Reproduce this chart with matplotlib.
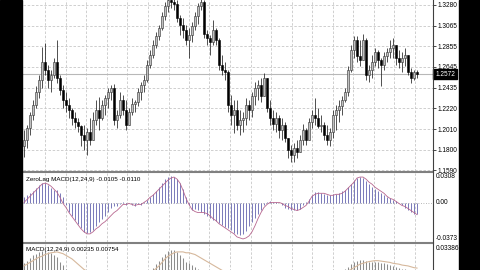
import numpy as np
import matplotlib.pyplot as plt
from matplotlib.patches import Rectangle
from matplotlib.lines import Line2D

plt.rcParams['font.family'] = ['Liberation Sans', 'DejaVu Sans']

# --- price bars (one per bar, oldest first) ---
first_open = 1.1836
closes = [1.1897, 1.2020, 1.2153, 1.2256, 1.2389, 1.2512, 1.2696, 1.2614, 1.2512, 1.2563,
          1.2696, 1.2532, 1.2409, 1.2307, 1.2256, 1.2205, 1.2123, 1.2082, 1.2041, 1.1949,
          1.1897, 1.1979, 1.1897, 1.2102, 1.2205, 1.2123, 1.2256, 1.2327, 1.2389, 1.2430,
          1.2102, 1.2153, 1.2307, 1.2205, 1.2051, 1.2184, 1.2266, 1.2287, 1.2389, 1.2461,
          1.2512, 1.2665, 1.2768, 1.2870, 1.2962, 1.3044, 1.3167, 1.3270, 1.3331, 1.3311,
          1.3290, 1.3147, 1.3075, 1.3024, 1.2921, 1.2973, 1.3065, 1.3167, 1.3270, 1.3311,
          1.2983, 1.2942, 1.2901, 1.3024, 1.2921, 1.2665, 1.2614, 1.2594, 1.2256, 1.2153,
          1.2205, 1.2051, 1.2102, 1.2123, 1.2256, 1.2205, 1.2348, 1.2430, 1.2461, 1.2348,
          1.2532, 1.2225, 1.2123, 1.2061, 1.2123, 1.2000, 1.2051, 1.1918, 1.1795, 1.1744,
          1.1816, 1.1775, 1.1897, 1.2000, 1.1897, 1.2082, 1.2153, 1.2123, 1.2041, 1.2051,
          1.1949, 1.1897, 1.1979, 1.2153, 1.2205, 1.2246, 1.2307, 1.2389, 1.2614, 1.2819,
          1.2921, 1.2758, 1.2717, 1.2921, 1.2563, 1.2614, 1.2696, 1.2799, 1.2717, 1.2665,
          1.2758, 1.2799, 1.2840, 1.2870, 1.2737, 1.2696, 1.2737, 1.2768, 1.2594, 1.2532,
          1.2594, 1.2572]
highs = [1.2000, 1.2051, 1.2184, 1.2307, 1.2450, 1.2563, 1.2850, 1.2891, 1.2665, 1.2614,
         1.2737, 1.2921, 1.2563, 1.2461, 1.2389, 1.2327, 1.2225, 1.2184, 1.2123, 1.2051,
         1.2051, 1.2020, 1.2123, 1.2184, 1.2307, 1.2338, 1.2307, 1.2358, 1.2430, 1.2461,
         1.2471, 1.2205, 1.2389, 1.2358, 1.2307, 1.2225, 1.2327, 1.2307, 1.2430, 1.2491,
         1.2563, 1.2717, 1.2819, 1.2921, 1.3003, 1.3075, 1.3208, 1.3311, 1.3382, 1.3413,
         1.3382, 1.3331, 1.3177, 1.3147, 1.3075, 1.3044, 1.3106, 1.3208, 1.3300, 1.3362,
         1.3331, 1.3024, 1.2973, 1.3126, 1.3044, 1.2942, 1.2768, 1.2696, 1.2614, 1.2358,
         1.2307, 1.2307, 1.2205, 1.2184, 1.2327, 1.2307, 1.2389, 1.2491, 1.2512, 1.2532,
         1.2583, 1.2430, 1.2307, 1.2205, 1.2184, 1.2153, 1.2123, 1.2082, 1.1918, 1.1846,
         1.1867, 1.1897, 1.1949, 1.2061, 1.2020, 1.2123, 1.2205, 1.2327, 1.2225, 1.2153,
         1.2082, 1.2051, 1.2020, 1.2205, 1.2256, 1.2307, 1.2348, 1.2430, 1.2655, 1.2870,
         1.2962, 1.2962, 1.2921, 1.2983, 1.2942, 1.2665, 1.2768, 1.2840, 1.2819, 1.2737,
         1.2799, 1.2840, 1.2921, 1.2942, 1.2870, 1.2819, 1.2799, 1.2840, 1.2768, 1.2635,
         1.2614, 1.2614]
lows = [1.1723, 1.1815, 1.1949, 1.2102, 1.2225, 1.2327, 1.2430, 1.2563, 1.2430, 1.2389,
        1.2532, 1.2481, 1.2358, 1.2225, 1.2184, 1.2123, 1.2051, 1.2020, 1.1979, 1.1836,
        1.1795, 1.1744, 1.1846, 1.1949, 1.2051, 1.2000, 1.2102, 1.2153, 1.2225, 1.2307,
        1.2051, 1.2020, 1.2123, 1.2153, 1.2000, 1.2051, 1.2153, 1.2184, 1.2246, 1.2307,
        1.2389, 1.2491, 1.2635, 1.2737, 1.2840, 1.2921, 1.3024, 1.3126, 1.3208, 1.3249,
        1.3229, 1.3106, 1.2973, 1.2942, 1.2870, 1.2737, 1.2901, 1.3024, 1.3085, 1.3229,
        1.2942, 1.2870, 1.2768, 1.2870, 1.2870, 1.2614, 1.2563, 1.2512, 1.2184, 1.2051,
        1.1969, 1.2000, 1.1949, 1.1979, 1.2051, 1.2102, 1.2133, 1.2256, 1.2307, 1.2287,
        1.2358, 1.2184, 1.2051, 1.2000, 1.1979, 1.1918, 1.1897, 1.1877, 1.1713, 1.1672,
        1.1672, 1.1713, 1.1775, 1.1846, 1.1846, 1.1897, 1.2020, 1.2051, 1.2020, 1.1979,
        1.1897, 1.1846, 1.1836, 1.1918, 1.2000, 1.2082, 1.2153, 1.2287, 1.2348, 1.2594,
        1.2737, 1.2696, 1.2655, 1.2737, 1.2512, 1.2491, 1.2532, 1.2655, 1.2635, 1.2450,
        1.2614, 1.2696, 1.2737, 1.2737, 1.2665, 1.2635, 1.2594, 1.2655, 1.2563, 1.2481,
        1.2512, 1.2532]

price_ticks = [1.3280, 1.3065, 1.2855, 1.2645, 1.2435, 1.2220, 1.2010, 1.1800, 1.1590]
price_labels = ['1.3280', '1.3065', '1.2855', '1.2645', '1.2435', '1.2220', '1.2010', '1.1800', '1.1590']

# --- ZeroLag MACD(12,24,9) ---
zl_hist = [0.006, 0.008, 0.010, 0.012, 0.015, 0.018, 0.020, 0.020, 0.018, 0.015,
           0.013, 0.013, 0.010, 0.006, -0.002, -0.008, -0.012, -0.016, -0.020, -0.024,
           -0.028, -0.029, -0.028, -0.026, -0.022, -0.018, -0.015, -0.012, -0.008, -0.004,
           -0.003, -0.003, -0.001, 0.001, -0.002, 0.000, -0.002, -0.003, -0.001, -0.002,
           0.001, 0.003, 0.006, 0.009, 0.012, 0.016, 0.020, 0.024, 0.026, 0.027,
           0.026, 0.024, 0.020, 0.014, 0.006, -0.002, -0.006, -0.005, -0.006, -0.008,
           -0.010, -0.012, -0.014, -0.016, -0.017, -0.019, -0.021, -0.023, -0.024, -0.026,
           -0.029, -0.030, -0.031, -0.030, -0.027, -0.022, -0.018, -0.014, -0.010, -0.006,
           -0.002, 0.001, 0.002, 0.001, 0.001, 0.000, -0.002, -0.004, -0.005, -0.006,
           -0.006, -0.006, -0.005, -0.002, 0.001, 0.004, 0.008, 0.011, 0.011, 0.010,
           0.009, 0.008, 0.008, 0.009, 0.009, 0.010, 0.012, 0.013, 0.016, 0.019,
           0.023, 0.025, 0.026, 0.025, 0.022, 0.019, 0.016, 0.014, 0.012, 0.010,
           0.008, 0.006, 0.005, 0.003, 0.002, 0.000, -0.002, -0.004, -0.006, -0.008,
           -0.010, -0.0105]
zl_signal = [0.001, 0.004, 0.007, 0.010, 0.013, 0.016, 0.019, 0.020, 0.019, 0.017,
             0.014, 0.011, 0.006, 0.000, -0.004, -0.009, -0.013, -0.017, -0.021, -0.025,
             -0.028, -0.030, -0.030, -0.028, -0.025, -0.023, -0.020, -0.018, -0.015, -0.012,
             -0.009, -0.007, -0.004, -0.001, -0.001, 0.000, -0.001, -0.002, -0.001, -0.001,
             0.001, 0.003, 0.006, 0.008, 0.011, 0.014, 0.017, 0.020, 0.023, 0.025,
             0.026, 0.024, 0.020, 0.013, 0.005, -0.001, -0.006, -0.008, -0.009, -0.009,
             -0.009, -0.010, -0.012, -0.015, -0.017, -0.020, -0.022, -0.024, -0.026, -0.028,
             -0.030, -0.033, -0.034, -0.035, -0.034, -0.032, -0.028, -0.022, -0.015, -0.009,
             -0.004, -0.001, 0.001, 0.001, 0.001, 0.001, 0.000, -0.002, -0.003, -0.005,
             -0.006, -0.007, -0.006, -0.004, -0.002, 0.002, 0.007, 0.009, 0.010, 0.010,
             0.010, 0.009, 0.008, 0.008, 0.009, 0.009, 0.010, 0.012, 0.015, 0.018,
             0.021, 0.025, 0.026, 0.026, 0.024, 0.021, 0.019, 0.016, 0.014, 0.012,
             0.010, 0.007, 0.005, 0.004, 0.002, 0.000, -0.002, -0.003, -0.005, -0.007,
             -0.009, -0.011]

# --- MACD(12,24,9) ---
macd_hist = [0.013, 0.016, 0.019, 0.022, 0.024, 0.026, 0.027, 0.027, 0.026, 0.025,
             0.023, 0.020, 0.015, 0.011, 0.007, 0.003, -0.002, -0.006, -0.010, -0.014,
             -0.017, -0.019, -0.020, -0.020, -0.019, -0.017, -0.015, -0.013, -0.011, -0.009,
             -0.008, -0.007, -0.006, -0.005, -0.005, -0.004, -0.004, -0.003, -0.002, -0.001,
             0.001, 0.003, 0.005, 0.008, 0.012, 0.016, 0.020, 0.024, 0.027, 0.028,
             0.028, 0.026, 0.023, 0.019, 0.015, 0.013, 0.011, 0.009, 0.007, 0.005,
             0.004, 0.002, 0.000, -0.002, -0.004, -0.007, -0.010, -0.013, -0.016, -0.019,
             -0.022, -0.024, -0.025, -0.026, -0.025, -0.024, -0.022, -0.020, -0.018, -0.016,
             -0.014, -0.013, -0.012, -0.011, -0.011, -0.011, -0.012, -0.013, -0.014, -0.015,
             -0.015, -0.014, -0.013, -0.011, -0.009, -0.007, -0.005, -0.003, -0.002, -0.001,
             -0.001, -0.001, -0.001, 0.000, 0.001, 0.002, 0.004, 0.006, 0.009, 0.012,
             0.015, 0.016, 0.017, 0.017, 0.016, 0.015, 0.015, 0.014, 0.014, 0.013,
             0.013, 0.012, 0.011, 0.010, 0.009, 0.008, 0.007, 0.006, 0.004, 0.003,
             0.003, 0.00235]
macd_signal = [0.010, 0.012, 0.014, 0.016, 0.018, 0.020, 0.021, 0.023, 0.024, 0.025,
               0.0255, 0.026, 0.025, 0.024, 0.022, 0.020, 0.018, 0.015, 0.012, 0.009,
               0.006, 0.004, 0.001, -0.002, -0.005, -0.007, -0.009, -0.011, -0.012, -0.012,
               -0.012, -0.011, -0.010, -0.009, -0.008, -0.007, -0.006, -0.005, -0.004, -0.003,
               -0.002, 0.000, 0.002, 0.004, 0.007, 0.010, 0.014, 0.018, 0.021, 0.023,
               0.025, 0.026, 0.026, 0.026, 0.025, 0.025, 0.024, 0.023, 0.021, 0.019,
               0.017, 0.015, 0.013, 0.011, 0.009, 0.007, 0.005, 0.003, 0.000, -0.003,
               -0.006, -0.009, -0.012, -0.015, -0.017, -0.019, -0.020, -0.020, -0.020, -0.019,
               -0.018, -0.017, -0.016, -0.015, -0.014, -0.013, -0.013, -0.013, -0.013, -0.013,
               -0.013, -0.013, -0.013, -0.012, -0.011, -0.010, -0.009, -0.008, -0.006, -0.005,
               -0.004, -0.003, -0.002, -0.001, 0.000, 0.001, 0.002, 0.003, 0.004, 0.006,
               0.008, 0.010, 0.012, 0.013, 0.014, 0.015, 0.0155, 0.016, 0.016, 0.0155,
               0.015, 0.0145, 0.014, 0.013, 0.0125, 0.012, 0.011, 0.0105, 0.010, 0.009,
               0.008, 0.00754]

W, H = 480, 270


def rect(x0, y0, x1, y1):
    # pixel box (top-left origin) -> figure fraction
    return [x0 / W, 1 - y1 / H, (x1 - x0) / W, (y1 - y0) / H]


closes = np.array(closes)
opens = np.r_[first_open, closes[:-1]]
hi = np.maximum(highs, np.maximum(opens, closes))
lo = np.minimum(lows, np.minimum(opens, closes))
x = np.arange(len(closes))
xlim = (-1 / 3, -1 / 3 + 410 / 3)
grid_px = [45, 66, 86, 107, 127, 148, 169, 189, 209, 230, 251, 271, 292, 312, 333, 353, 374, 394, 415]
grid_x = [(p - 24) / 3 for p in grid_px]
grid_kw = dict(color='#c8c8c8', lw=0.6, ls=(0, (3, 2)), zorder=0)

fig = plt.figure(figsize=(4.8, 2.7), dpi=100)
fig.patch.set_facecolor('white')

ax = fig.add_axes(rect(23, 0, 433, 171))
ax2 = fig.add_axes(rect(23, 173, 433, 242))
ax3 = fig.add_axes(rect(23, 244, 433, 313))

for a in (ax, ax2, ax3):
    a.set_xlim(*xlim)
    a.set_xticks([])
    for s in a.spines.values():
        s.set_visible(False)
    for gx in grid_x:
        a.axvline(gx, **grid_kw)

# main price window
ax.set_ylim(1.1580, 1.3331)
for t in price_ticks:
    ax.axhline(t, **grid_kw)
ax.axhline(closes[-1], color='#b8b8b8', lw=0.8, zorder=1)
ax.vlines(x, lo, hi, color='#202020', lw=0.55, zorder=2)
up = closes >= opens
ax.bar(x[up], (closes - opens)[up], bottom=opens[up], width=0.7,
       color='#c0c0c0', edgecolor='#303030', lw=0.4, zorder=3)
ax.bar(x[~up], (opens - closes)[~up], bottom=closes[~up], width=0.7,
       color='black', edgecolor='black', lw=0.4, zorder=3)
ax.yaxis.tick_right()
ax.set_yticks(price_ticks)
ax.set_yticklabels(price_labels)
ax.tick_params(axis='y', length=2, width=0.5, pad=1.5, labelsize=4.7, colors='black')
ax.text(1.005, closes[-1], f'{closes[-1]:.4f}', transform=ax.get_yaxis_transform(),
        fontsize=4.7, color='white', va='center', ha='left', clip_on=False, zorder=20,
        bbox=dict(boxstyle='square,pad=0.25', fc='black', ec='black'))

# ZeroLag MACD window
ax2.set_ylim(-0.038, 0.030)
ax2.set_yticks([])
ax2.axhline(0, color='#a0a0a0', lw=0.6, ls=(0, (1, 2)), zorder=0)
ax2.vlines(x, 0, zl_hist, color='#7070b4', lw=0.65, zorder=2)
ax2.plot(x, zl_signal, color='#b86890', lw=0.6, zorder=3)

# MACD window (cut off by the bottom edge)
ax3.set_ylim(-0.0437, 0.035)
ax3.set_yticks([])
ax3.vlines(x, 0, macd_hist, color='#8c8c8c', lw=0.75, zorder=2)
ax3.plot(x, macd_signal, color='#d6b89c', lw=0.8, zorder=3)

# window titles
fig.text(26 / W, 1 - 179 / H, f'ZeroLag MACD(12,24,9) {zl_hist[-1]:.4f} {zl_signal[-1]:.4f}',
         fontsize=4.5, va='center', ha='left')
fig.text(26 / W, 1 - 250 / H, f'MACD(12,24,9) {macd_hist[-1]:.5f} {macd_signal[-1]:.5f}',
         fontsize=4.5, va='center', ha='left')

# right-hand scale labels of the indicator windows
for ypx, lab in [(177, '0.0308'), (203, '0.00'), (238, '-0.0373'), (248, '0.03386')]:
    fig.text(436 / W, 1 - ypx / H, lab, fontsize=4.7, va='center', ha='left')

# window separators, price scale line and black side margins
for ypx in (171.5, 242.5):
    fig.add_artist(Line2D([23 / W, 433 / W], [1 - ypx / H] * 2, color='#808080', lw=1.5))
fig.add_artist(Line2D([433 / W] * 2, [0, 1], color='#404040', lw=0.8))
fig.add_artist(Rectangle((0, 0), 22 / W, 1, transform=fig.transFigure, color='black', zorder=10))
fig.add_artist(Rectangle((459 / W, 0), 21 / W, 1, transform=fig.transFigure, color='black', zorder=10))

fig.savefig('out.png', dpi=100, facecolor='white')
